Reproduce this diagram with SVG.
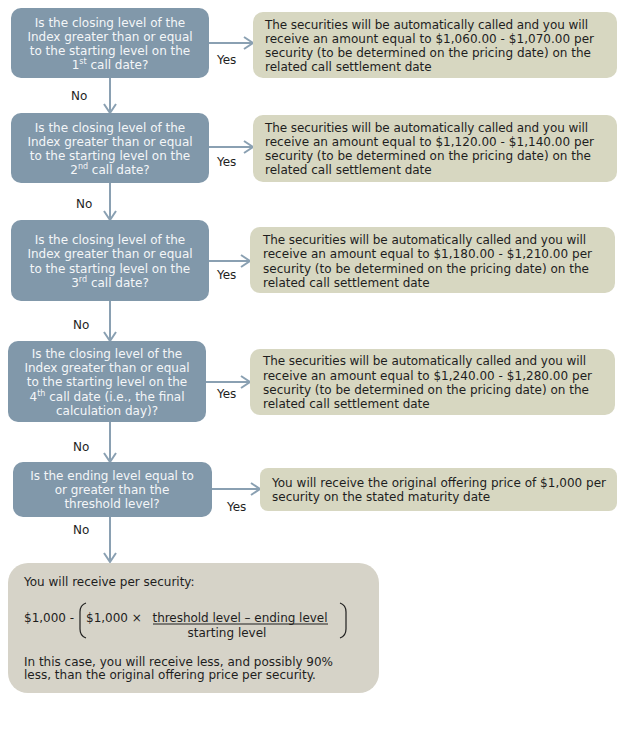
<svg xmlns="http://www.w3.org/2000/svg" width="624" height="734" viewBox="0 0 624 734">
<style>
.q{fill:#8198aa}
.a{fill:#d7d7c1}
.f{fill:#d6d3c8}
.qt{font-family:"DejaVu Sans","Verdana",sans-serif;font-size:12px;fill:#f4f6f8;text-anchor:middle}
.t{font-family:"DejaVu Sans","Verdana",sans-serif;font-size:12px;fill:#1e1e1e}
.l{font-family:"DejaVu Sans","Verdana",sans-serif;font-size:12px;fill:#1e1e1e}
.c{stroke:#8aa0b2;stroke-width:2;fill:none}
.sup{font-size:8px}
</style>
<defs>
<marker id="ah" markerUnits="userSpaceOnUse" markerWidth="12" markerHeight="14" refX="10" refY="7" orient="auto">
<path d="M1,1 L10,7 L1,13" fill="none" stroke="#8aa0b2" stroke-width="2"/>
</marker>
</defs>
<g id="connectors">
<line class="c" x1="209" y1="43" x2="253" y2="43" marker-end="url(#ah)"/>
<line class="c" x1="209" y1="147" x2="253" y2="147" marker-end="url(#ah)"/>
<line class="c" x1="209" y1="261" x2="250" y2="261" marker-end="url(#ah)"/>
<line class="c" x1="206" y1="382" x2="250" y2="382" marker-end="url(#ah)"/>
<line class="c" x1="212" y1="489" x2="260" y2="489" marker-end="url(#ah)"/>
<line class="c" x1="110" y1="78" x2="110" y2="113" marker-end="url(#ah)"/>
<line class="c" x1="110" y1="183" x2="110" y2="220" marker-end="url(#ah)"/>
<line class="c" x1="110" y1="301" x2="110" y2="341" marker-end="url(#ah)"/>
<line class="c" x1="110" y1="422" x2="110" y2="462" marker-end="url(#ah)"/>
<line class="c" x1="110" y1="517" x2="110" y2="562" marker-end="url(#ah)"/>
<text class="l" x="217" y="64">Yes</text>
<text class="l" x="217" y="166">Yes</text>
<text class="l" x="217" y="279">Yes</text>
<text class="l" x="217" y="398">Yes</text>
<text class="l" x="227" y="511">Yes</text>
<text class="l" x="71" y="100">No</text>
<text class="l" x="76" y="208">No</text>
<text class="l" x="73" y="329">No</text>
<text class="l" x="73" y="451">No</text>
<text class="l" x="73" y="534">No</text>
</g>
<g id="q1">
<rect class="q" x="11" y="8" width="198" height="70" rx="10"/>
<text class="qt" x="110" y="27">Is the closing level of the</text>
<text class="qt" x="110" y="41">Index greater than or equal</text>
<text class="qt" x="110" y="55">to the starting level on the</text>
<text class="qt" x="110" y="69">1<tspan class="sup" dy="-5">st</tspan><tspan dy="5"> call date?</tspan></text>
</g>
<g id="a1">
<rect class="a" x="253" y="12" width="364" height="66" rx="10"/>
<text class="t" x="265" y="29" textLength="323" lengthAdjust="spacing">The securities will be automatically called and you will</text>
<text class="t" x="265" y="43" textLength="329" lengthAdjust="spacing">receive an amount equal to $1,060.00 - $1,070.00 per</text>
<text class="t" x="265" y="57" textLength="326" lengthAdjust="spacing">security (to be determined on the pricing date) on the</text>
<text class="t" x="265" y="71">related call settlement date</text>
</g>
<g id="q2">
<rect class="q" x="11" y="113" width="198" height="70" rx="10"/>
<text class="qt" x="110" y="132">Is the closing level of the</text>
<text class="qt" x="110" y="146">Index greater than or equal</text>
<text class="qt" x="110" y="160">to the starting level on the</text>
<text class="qt" x="110" y="174">2<tspan class="sup" dy="-5">nd</tspan><tspan dy="5"> call date?</tspan></text>
</g>
<g id="a2">
<rect class="a" x="253" y="115" width="364" height="67" rx="10"/>
<text class="t" x="265" y="132" textLength="323" lengthAdjust="spacing">The securities will be automatically called and you will</text>
<text class="t" x="265" y="146" textLength="329" lengthAdjust="spacing">receive an amount equal to $1,120.00 - $1,140.00 per</text>
<text class="t" x="265" y="160" textLength="326" lengthAdjust="spacing">security (to be determined on the pricing date) on the</text>
<text class="t" x="265" y="174">related call settlement date</text>
</g>
<g id="q3">
<rect class="q" x="11" y="220" width="198" height="81" rx="10"/>
<text class="qt" x="110" y="244">Is the closing level of the</text>
<text class="qt" x="110" y="258">Index greater than or equal</text>
<text class="qt" x="110" y="273">to the starting level on the</text>
<text class="qt" x="110" y="287">3<tspan class="sup" dy="-5">rd</tspan><tspan dy="5"> call date?</tspan></text>
</g>
<g id="a3">
<rect class="a" x="250" y="227" width="365" height="66" rx="10"/>
<text class="t" x="263" y="244" textLength="323" lengthAdjust="spacing">The securities will be automatically called and you will</text>
<text class="t" x="263" y="258" textLength="329" lengthAdjust="spacing">receive an amount equal to $1,180.00 - $1,210.00 per</text>
<text class="t" x="263" y="273" textLength="326" lengthAdjust="spacing">security (to be determined on the pricing date) on the</text>
<text class="t" x="263" y="287">related call settlement date</text>
</g>
<g id="q4">
<rect class="q" x="8" y="341" width="198" height="81" rx="10"/>
<text class="qt" x="107" y="358">Is the closing level of the</text>
<text class="qt" x="107" y="372">Index greater than or equal</text>
<text class="qt" x="107" y="386">to the starting level on the</text>
<text class="qt" x="107" y="401">4<tspan class="sup" dy="-5">th</tspan><tspan dy="5"> call date (i.e., the final</tspan></text>
<text class="qt" x="107" y="415">calculation day)?</text>
</g>
<g id="a4">
<rect class="a" x="250" y="349" width="365" height="66" rx="10"/>
<text class="t" x="263" y="365" textLength="323" lengthAdjust="spacing">The securities will be automatically called and you will</text>
<text class="t" x="263" y="380" textLength="329" lengthAdjust="spacing">receive an amount equal to $1,240.00 - $1,280.00 per</text>
<text class="t" x="263" y="394" textLength="326" lengthAdjust="spacing">security (to be determined on the pricing date) on the</text>
<text class="t" x="263" y="408">related call settlement date</text>
</g>
<g id="q5">
<rect class="q" x="13" y="462" width="199" height="55" rx="10"/>
<text class="qt" x="112" y="480">Is the ending level equal to</text>
<text class="qt" x="112" y="494">or greater than the</text>
<text class="qt" x="112" y="508">threshold level?</text>
</g>
<g id="a5">
<rect class="a" x="260" y="468" width="357" height="43" rx="8"/>
<text class="t" x="272" y="487" textLength="334" lengthAdjust="spacing">You will receive the original offering price of $1,000 per</text>
<text class="t" x="272" y="501">security on the stated maturity date</text>
</g>
<g id="final">
<rect class="f" x="8" y="563" width="371" height="130" rx="20"/>
<text class="t" x="24" y="586">You will receive per security:</text>
<text class="t" x="24" y="622">$1,000 -</text>
<path d="M86,603 Q80,605 80,612 L80,629 Q80,636 86,638" fill="none" stroke="#1e1e1e" stroke-width="1.2"/>
<text class="t" x="86" y="622">$1,000 ×</text>
<text class="t" x="240" y="622" text-anchor="middle" textLength="175" lengthAdjust="spacing">threshold level – ending level</text>
<line x1="153" y1="624" x2="328" y2="624" stroke="#1e1e1e" stroke-width="1"/>
<text class="t" x="227" y="637" text-anchor="middle">starting level</text>
<path d="M340,603 Q346,605 346,612 L346,629 Q346,636 340,638" fill="none" stroke="#1e1e1e" stroke-width="1.2"/>
<text class="t" x="24" y="666" textLength="309" lengthAdjust="spacing">In this case, you will receive less, and possibly 90%</text>
<text class="t" x="24" y="679">less, than the original offering price per security.</text>
</g>
</svg>
